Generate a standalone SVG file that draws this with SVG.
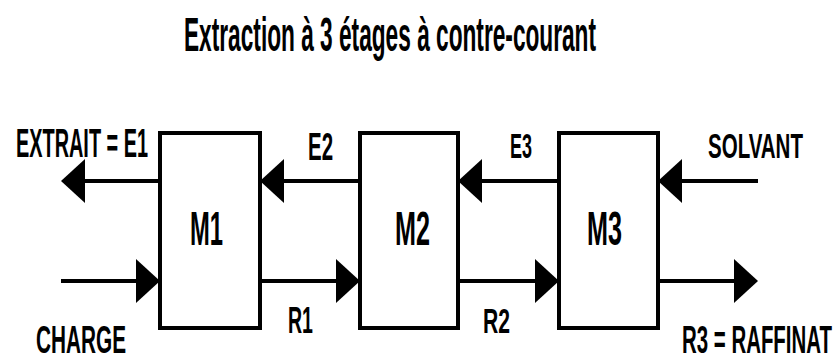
<svg xmlns="http://www.w3.org/2000/svg" width="836" height="362" viewBox="0 0 836 362">
  <style>
    .box { fill: #ffffff; stroke: #000000; stroke-width: 4; }
    .flow { stroke: #000000; stroke-width: 4; fill: none; marker-end: url(#head); }
    .lbl { font-family: "Liberation Sans", Arial, sans-serif; font-weight: bold; fill: #000000; }
    .title { font-family: "Liberation Sans", Arial, sans-serif; font-weight: bold; fill: #000000; font-size: 48px; }
  </style>
  <defs>
    <marker id="head" viewBox="0 0 24 44" refX="0" refY="22" markerWidth="24" markerHeight="44" markerUnits="userSpaceOnUse" orient="auto">
      <path d="M0,0 L24,22 L0,44 Z" fill="#000000"/>
    </marker>
  </defs>
  <rect width="836" height="362" fill="#ffffff"/>

  <!-- condensed lettering: each text is squeezed horizontally with a scale -->
  <text class="title" transform="translate(184,51) scale(0.4725,1)" textLength="872" lengthAdjust="spacingAndGlyphs">Extraction à 3 étages à contre-courant</text>

  <!-- mixer-settler stages -->
  <g id="M1">
    <rect class="box" x="160" y="133" width="100" height="195"/>
    <text class="lbl" transform="translate(190,245) scale(0.495,1)" font-size="48" textLength="66.7" lengthAdjust="spacingAndGlyphs">M1</text>
  </g>
  <g id="M2">
    <rect class="box" x="360" y="133" width="98" height="195"/>
    <text class="lbl" transform="translate(395,245) scale(0.525,1)" font-size="48" textLength="66.7" lengthAdjust="spacingAndGlyphs">M2</text>
  </g>
  <g id="M3">
    <rect class="box" x="559" y="133" width="99" height="195"/>
    <text class="lbl" transform="translate(587,245) scale(0.525,1)" font-size="48" textLength="66.7" lengthAdjust="spacingAndGlyphs">M3</text>
  </g>

  <!-- streams -->
  <g id="connectors">
    <line class="flow" x1="160" y1="181" x2="85" y2="181"/>
    <line class="flow" x1="360" y1="181" x2="284" y2="181"/>
    <line class="flow" x1="559" y1="181" x2="482" y2="181"/>
    <line class="flow" x1="758" y1="181" x2="682" y2="181"/>
    <line class="flow" x1="61" y1="281" x2="136" y2="281"/>
    <line class="flow" x1="260" y1="281" x2="336" y2="281"/>
    <line class="flow" x1="458" y1="281" x2="535" y2="281"/>
    <line class="flow" x1="658" y1="281" x2="734" y2="281"/>
  </g>

  <!-- stream labels -->
  <g id="labels">
    <text class="lbl" transform="translate(16,157) scale(0.497,1)" font-size="40" textLength="265.6" lengthAdjust="spacingAndGlyphs">EXTRAIT = E1</text>
    <text class="lbl" transform="translate(308,160) scale(0.538,1)" font-size="38" textLength="46.5" lengthAdjust="spacingAndGlyphs">E2</text>
    <text class="lbl" transform="translate(510,158) scale(0.5,1)" font-size="36" textLength="44" lengthAdjust="spacingAndGlyphs">E3</text>
    <text class="lbl" transform="translate(708,158) scale(0.552,1)" font-size="36" textLength="172" lengthAdjust="spacingAndGlyphs">SOLVANT</text>
    <text class="lbl" transform="translate(288,333) scale(0.543,1)" font-size="36" textLength="46" lengthAdjust="spacingAndGlyphs">R1</text>
    <text class="lbl" transform="translate(483,333) scale(0.587,1)" font-size="36" textLength="46" lengthAdjust="spacingAndGlyphs">R2</text>
    <text class="lbl" transform="translate(36,353) scale(0.533,1)" font-size="39" textLength="169" lengthAdjust="spacingAndGlyphs">CHARGE</text>
    <text class="lbl" transform="translate(682,353) scale(0.5185,1)" font-size="39" textLength="289.3" lengthAdjust="spacingAndGlyphs">R3 = RAFFINAT</text>
  </g>
</svg>
